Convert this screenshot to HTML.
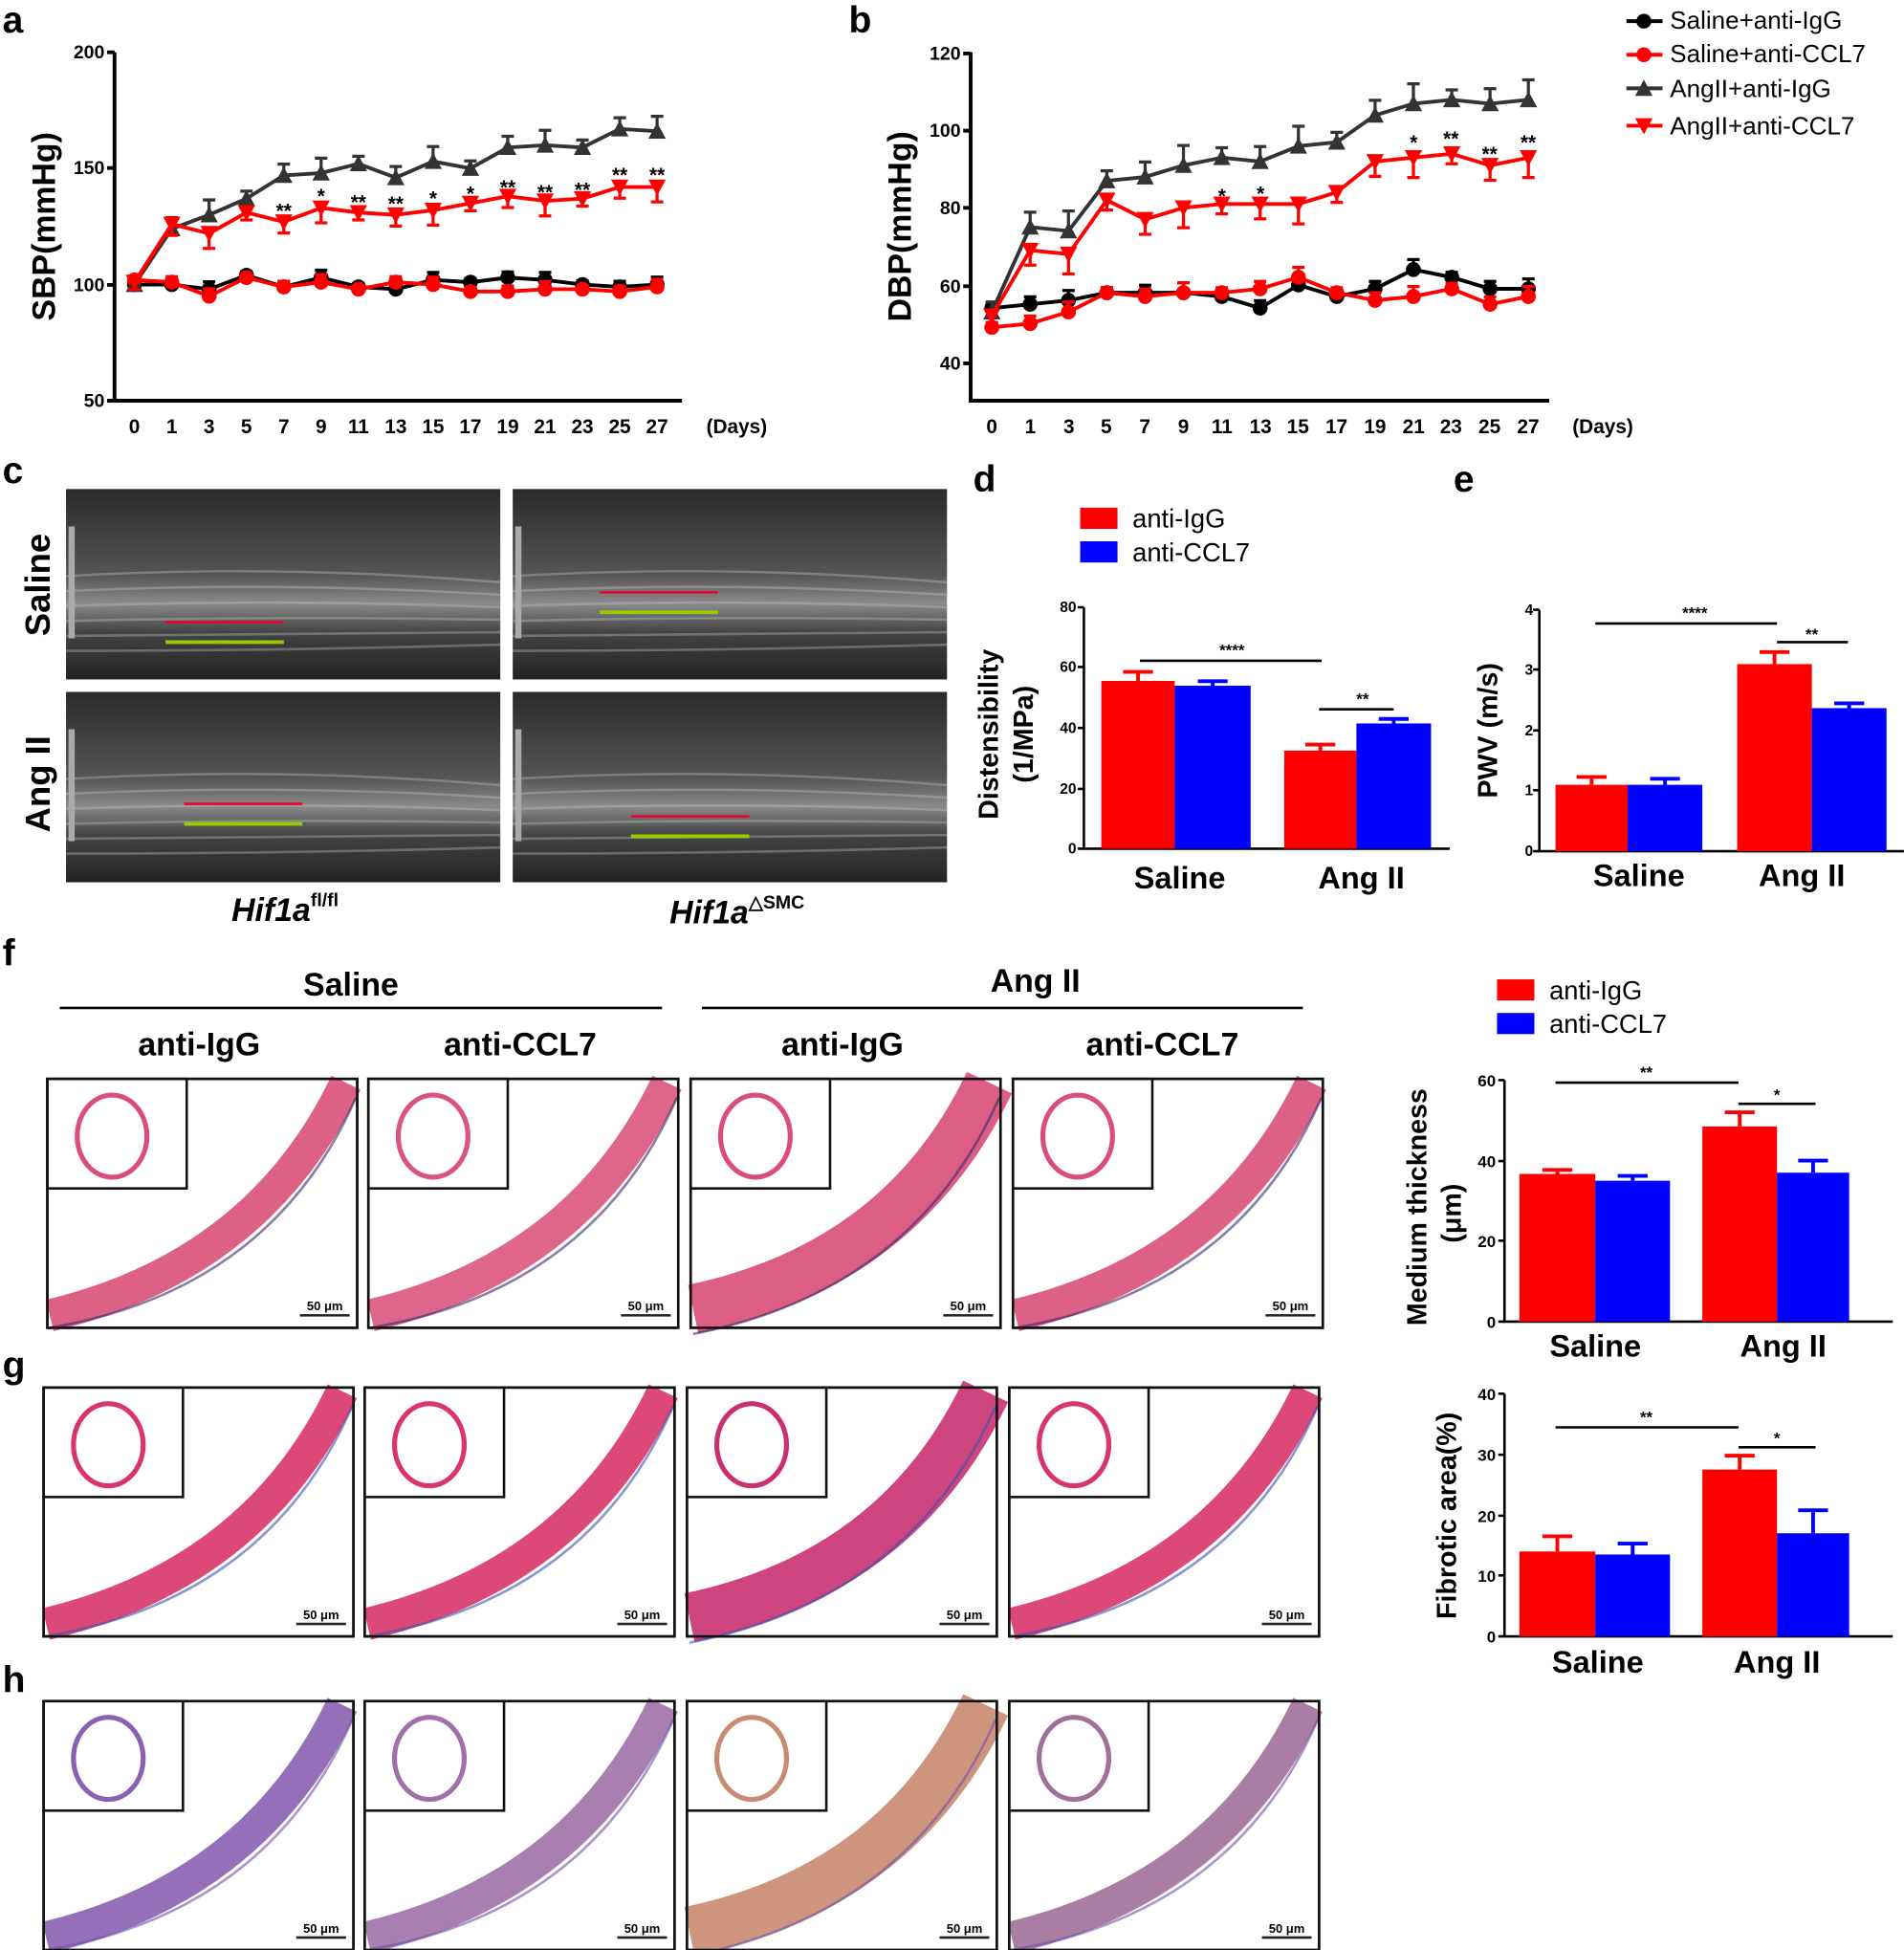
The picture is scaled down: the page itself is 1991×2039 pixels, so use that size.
<!DOCTYPE html>
<html><head><meta charset="utf-8"><style>
html,body{margin:0;padding:0;background:#fff;}
svg{display:block;}
text{font-family:"Liberation Sans",Arial,sans-serif;}
</style></head><body>
<svg id="s" width="1991" height="2039" viewBox="0 0 1530 1567" xmlns="http://www.w3.org/2000/svg">
<defs>
<linearGradient id="usg" x1="0" y1="0" x2="0" y2="1">
<stop offset="0" stop-color="#2a2a2a"/><stop offset="0.45" stop-color="#555"/><stop offset="0.6" stop-color="#8a8a8a"/><stop offset="0.75" stop-color="#444"/><stop offset="1" stop-color="#222"/></linearGradient>
</defs>
<g font-weight="bold">
<text x="2" y="26" font-size="30">a</text>
<text x="682" y="26" font-size="30">b</text>
<text x="2" y="388" font-size="30">c</text>
<text x="782" y="395" font-size="30">d</text>
<text x="1168" y="395" font-size="30">e</text>
<text x="2" y="776" font-size="30">f</text>
<text x="2" y="1107" font-size="30">g</text>
<text x="2" y="1360" font-size="30">h</text>
</g>
<g stroke="#000" stroke-width="3" fill="none">
<path d="M92,42 V322 H548"/><path d="M86,42H92M86,135H92M86,229H92M86,322H92"/>
<path d="M780,42 V322 H1245"/><path d="M774,43H780M774,105H780M774,167H780M774,230H780M774,292H780"/>
</g>
<g font-size="15" font-weight="bold" text-anchor="end">
<text x="84" y="47">200</text><text x="84" y="140">150</text><text x="84" y="234">100</text><text x="84" y="327">50</text>
<text x="772" y="48">120</text><text x="772" y="110">100</text><text x="772" y="172">80</text><text x="772" y="235">60</text><text x="772" y="297">40</text>
</g>
<text transform="translate(44,182) rotate(-90)" font-size="26" font-weight="bold" text-anchor="middle">SBP(mmHg)</text>
<text transform="translate(732,182) rotate(-90)" font-size="26" font-weight="bold" text-anchor="middle">DBP(mmHg)</text>
<g font-size="16" font-weight="bold" text-anchor="middle">
<text x="108" y="348">0</text><text x="138" y="348">1</text><text x="168" y="348">3</text><text x="198" y="348">5</text><text x="228" y="348">7</text><text x="258" y="348">9</text><text x="288" y="348">11</text><text x="318" y="348">13</text><text x="348" y="348">15</text><text x="378" y="348">17</text><text x="408" y="348">19</text><text x="438" y="348">21</text><text x="468" y="348">23</text><text x="498" y="348">25</text><text x="528" y="348">27</text>
<text x="592" y="348">(Days)</text>
<text x="797" y="348">0</text><text x="828" y="348">1</text><text x="859" y="348">3</text><text x="889" y="348">5</text><text x="920" y="348">7</text><text x="951" y="348">9</text><text x="982" y="348">11</text><text x="1013" y="348">13</text><text x="1043" y="348">15</text><text x="1074" y="348">17</text><text x="1105" y="348">19</text><text x="1136" y="348">21</text><text x="1166" y="348">23</text><text x="1197" y="348">25</text><text x="1228" y="348">27</text>
<text x="1288" y="348">(Days)</text>
</g>
<g font-size="16" font-weight="bold" text-anchor="middle">
<text x="228" y="175">**</text><text x="258" y="163">*</text><text x="288" y="168">**</text><text x="318" y="169">**</text><text x="348" y="165">*</text><text x="378" y="161">*</text><text x="408" y="156">**</text><text x="438" y="160">**</text><text x="468" y="158">**</text><text x="498" y="146">**</text><text x="528" y="146">**</text>
<text x="982" y="163">*</text><text x="1013" y="161">*</text><text x="1136" y="120">*</text><text x="1166" y="117">**</text><text x="1197" y="129">**</text><text x="1228" y="120">**</text>
</g>
<g font-size="20">
<text x="1342" y="23">Saline+anti-IgG</text><text x="1342" y="50">Saline+anti-CCL7</text><text x="1342" y="78">AngII+anti-IgG</text><text x="1342" y="108">AngII+anti-CCL7</text>
</g>
<g id="series"></g>
<g id="usgrp"></g>
<text transform="translate(40,470) rotate(-90)" font-size="28" font-weight="bold" text-anchor="middle">Saline</text>
<text transform="translate(40,630) rotate(-90)" font-size="28" font-weight="bold" text-anchor="middle">Ang II</text>
<text x="186" y="740" font-size="26" font-weight="bold" font-style="italic">Hif1a<tspan font-size="15" dy="-12" font-style="normal">fl/fl</tspan></text>
<text x="538" y="742" font-size="26" font-weight="bold" font-style="italic">Hif1a<tspan font-size="15" dy="-12" font-style="normal">△SMC</tspan></text>
<rect x="868" y="408" width="30" height="17" fill="#f00"/><text x="910" y="424" font-size="21">anti-IgG</text>
<rect x="868" y="435" width="30" height="17" fill="#00f"/><text x="910" y="451" font-size="21">anti-CCL7</text>
<g stroke="#000" stroke-width="2" fill="none"><path d="M871,488V682H1165"/><path d="M866,488H871M866,536H871M866,585H871M866,634H871M866,682H871"/>
<path d="M1237,490V684H1530"/><path d="M1232,490H1237M1232,538H1237M1232,587H1237M1232,635H1237M1232,684H1237"/>
<path d="M1209,868V1062H1521"/><path d="M1204,868H1209M1204,933H1209M1204,997H1209M1204,1062H1209"/>
<path d="M1209,1120V1315H1521"/><path d="M1204,1120H1209M1204,1169H1209M1204,1218H1209M1204,1266H1209M1204,1315H1209"/>
</g>
<g font-size="12" font-weight="bold" text-anchor="end">
<text x="865" y="492">80</text><text x="865" y="540">60</text><text x="865" y="589">40</text><text x="865" y="638">20</text><text x="865" y="686">0</text>
<text x="1232" y="494">4</text><text x="1232" y="542">3</text><text x="1232" y="591">2</text><text x="1232" y="639">1</text><text x="1232" y="688">0</text>
</g>
<g font-size="13" font-weight="bold" text-anchor="end">
<text x="1202" y="873">60</text><text x="1202" y="938">40</text><text x="1202" y="1002">20</text><text x="1202" y="1067">0</text>
<text x="1202" y="1125">40</text><text x="1202" y="1174">30</text><text x="1202" y="1223">20</text><text x="1202" y="1271">10</text><text x="1202" y="1320">0</text>
</g>
<g id="bars"></g>
<text transform="translate(802,590) rotate(-90)" font-size="22" font-weight="bold" text-anchor="middle">Distensibility</text>
<text transform="translate(830,590) rotate(-90)" font-size="22" font-weight="bold" text-anchor="middle">(1/MPa)</text>
<text transform="translate(1203,587) rotate(-90)" font-size="22" font-weight="bold" text-anchor="middle">PWV (m/s)</text>
<text transform="translate(1146,970) rotate(-90)" font-size="22" font-weight="bold" text-anchor="middle">Medium thickness</text>
<text transform="translate(1174,975) rotate(-90)" font-size="22" font-weight="bold" text-anchor="middle">(μm)</text>
<text transform="translate(1170,1218) rotate(-90)" font-size="22" font-weight="bold" text-anchor="middle">Fibrotic area(%)</text>
<g font-size="25" font-weight="bold" text-anchor="middle">
<text x="948" y="714">Saline</text><text x="1094" y="714">Ang II</text>
<text x="1317" y="712">Saline</text><text x="1448" y="712">Ang II</text>
<text x="1282" y="1090">Saline</text><text x="1433" y="1090">Ang II</text>
<text x="1284" y="1344">Saline</text><text x="1428" y="1344">Ang II</text>
</g>
<g font-size="13" font-weight="bold" text-anchor="middle">
<text x="990" y="527">****</text><text x="1095" y="566">**</text>
<text x="1362" y="497">****</text><text x="1456" y="514">**</text>
<text x="1323" y="866">**</text><text x="1428" y="884">*</text>
<text x="1323" y="1143">**</text><text x="1428" y="1160">*</text>
</g>
<g stroke="#000" stroke-width="2">
<path d="M916,531H1062M1060,570H1120M1282,501H1428M1428,516H1485M1250,870H1397M1397,887H1459M1250,1147H1397M1397,1163H1459"/>
</g>
<rect x="1203" y="787" width="30" height="17" fill="#f00"/><text x="1245" y="803" font-size="21">anti-IgG</text>
<rect x="1203" y="814" width="30" height="17" fill="#00f"/><text x="1245" y="830" font-size="21">anti-CCL7</text>
<g font-size="26" font-weight="bold" text-anchor="middle">
<text x="282" y="800">Saline</text><text x="832" y="797">Ang II</text>
<text x="160" y="848">anti-IgG</text><text x="418" y="848">anti-CCL7</text><text x="677" y="848">anti-IgG</text><text x="934" y="848">anti-CCL7</text>
</g>
<path d="M48,810H532M564,810H1047" stroke="#000" stroke-width="2"/>
<g id="hist"></g>
<script>
var NS='http://www.w3.org/2000/svg';
function el(p,t,a,txt){var e=document.createElementNS(NS,t);for(var k in a)e.setAttribute(k,a[k]);if(txt)e.textContent=txt;p.appendChild(e);return e;}
var G=document.getElementById('series');
function series(xs,yf,d,col,mk,err){var pts=d.map(function(v,i){return [xs[i],yf(v)]});
 el(G,'polyline',{points:pts.join(' '),fill:'none',stroke:col,'stroke-width':3});
 pts.forEach(function(p,i){ if(err){var e=err*(1+ (i%3)*0.5);var dir=(mk=='dn')?1:-1; el(G,'path',{d:'M'+p[0]+','+p[1]+'V'+(p[1]+dir*e)+'M'+(p[0]-5)+','+(p[1]+dir*e)+'H'+(p[0]+5),stroke:col,'stroke-width':2.5});}
  if(mk=='c')el(G,'circle',{cx:p[0],cy:p[1],r:6,fill:col});
  else if(mk=='up')el(G,'path',{d:'M'+p[0]+','+(p[1]-7)+'L'+(p[0]+7)+','+(p[1]+6)+'L'+(p[0]-7)+','+(p[1]+6)+'Z',fill:col});
  else el(G,'path',{d:'M'+p[0]+','+(p[1]+7)+'L'+(p[0]+7)+','+(p[1]-6)+'L'+(p[0]-7)+','+(p[1]-6)+'Z',fill:col});});}
var xa=[],xb=[];for(var i=0;i<15;i++){xa.push(108+30*i);xb.push(797+30.8*i);}
var ya=function(v){return 322-(v-50)*280/150},yb=function(v){return 43+(120-v)*3.1};
series(xa,ya,[100,100,98,104,99,103,99,98,102,101,103,102,100,99,100],'#000','c',3);
series(xa,ya,[102,101,95,103,99,101,98,101,100,97,97,98,98,97,99],'#f00','c',3);
series(xa,ya,[100,124,130,137,147,148,152,146,153,150,159,160,159,167,166],'#333','up',6);
series(xa,ya,[101,126,122,131,127,133,131,130,132,135,138,136,137,142,142],'#f00','dn',6);
series(xb,yb,[54,55,56,58,58,58,57,54,60,57,59,64,62,59,59],'#000','c',4);
series(xb,yb,[49,50,53,58,57,58,58,59,62,58,56,57,59,55,57],'#f00','c',4);
series(xb,yb,[53,75,74,87,88,91,93,92,96,97,104,107,108,107,108],'#333','up',8);
series(xb,yb,[52,69,68,82,77,80,81,81,81,84,92,93,94,91,93],'#f00','dn',8);
[[17,'#000','c'],[44,'#f00','c'],[71,'#333','up'],[101,'#f00','dn']].forEach(function(l){el(G,'path',{d:'M1307,'+l[0]+'H1336',stroke:l[1],'stroke-width':3});
 var x=1321,y=l[0];if(l[2]=='c')el(G,'circle',{cx:x,cy:y,r:6,fill:l[1]});else if(l[2]=='up')el(G,'path',{d:'M'+x+','+(y-7)+'L'+(x+7)+','+(y+6)+'L'+(x-7)+','+(y+6)+'Z',fill:l[1]});else el(G,'path',{d:'M'+x+','+(y+7)+'L'+(x+7)+','+(y-6)+'L'+(x-7)+','+(y-6)+'Z',fill:l[1]});});
var U=document.getElementById('usgrp');
[[53,393],[412,393],[53,556],[412,556]].forEach(function(p,k){el(U,'rect',{x:p[0],y:p[1],width:349,height:153,fill:'url(#usg)'});
 for(var j=0;j<6;j++)el(U,'path',{d:'M'+p[0]+','+(p[1]+70+j*12)+'Q'+(p[0]+170)+','+(p[1]+60+j*14)+' '+(p[0]+349)+','+(p[1]+75+j*10),stroke:'#bbb','stroke-width':2,'stroke-opacity':0.4,fill:'none'});
 el(U,'rect',{x:p[0]+2,y:p[1]+30,width:5,height:90,fill:'#aaa'});
 var ly=p[1]+(k<2?(k==0?107:83):(k==2?90:100)),lx=p[0]+(k==0?80:(k==1?70:95));
 el(U,'path',{d:'M'+lx+','+ly+'H'+(lx+95),stroke:'#e03','stroke-width':2});el(U,'path',{d:'M'+lx+','+(ly+16)+'H'+(lx+95),stroke:'#9c0','stroke-width':3});});
var B=document.getElementById('bars');
function bars(list,y0,sc){list.forEach(function(b){var h=b[2]*sc;el(B,'rect',{x:b[0],y:y0-h,width:b[1],height:h,fill:b[3]});var eh=b[4]*sc;el(B,'path',{d:'M'+(b[0]+b[1]/2)+','+(y0-h)+'V'+(y0-h-eh)+'M'+(b[0]+b[1]/2-12)+','+(y0-h-eh)+'H'+(b[0]+b[1]/2+12),stroke:b[3],'stroke-width':3});});}
bars([[885,59,55.6,'#f00',3],[944,61,54,'#00f',1.5],[1032,58,32.5,'#f00',2],[1090,60,41.5,'#00f',1.5]],682,194/80);
bars([[1250,58,1.1,'#f00',0.13],[1308,60,1.1,'#00f',0.1],[1396,60,3.1,'#f00',0.2],[1456,60,2.37,'#00f',0.08]],684,194/4);
bars([[1221,61,36.7,'#f00',1],[1282,60,35,'#00f',1.2],[1368,60,48.5,'#f00',3.5],[1428,58,37,'#00f',3]],1062,194/60);
bars([[1221,61,14,'#f00',2.5],[1282,60,13.5,'#00f',1.8],[1368,60,27.5,'#f00',2.3],[1428,58,17,'#00f',3.8]],1315,195/40);
var H=document.getElementById('hist');
var rows=[[867,['#d94f78','#d9557d','#d94d78','#d94f7a'],'#3a2a6a'],[1115,['#d8356a','#d8356a','#c83070','#d8356a'],'#3a50b0'],[1367,['#8a60b0','#a070a8','#c88a70','#a07098'],'#7050a8']];
var cols=[38,296,555,814];
rows.forEach(function(r,ri){cols.forEach(function(cx,ci){var y=r[0],x=cx-(ri>0?3:0);
 el(H,'rect',{x:x,y:y,width:249,height:200,fill:'#fff',stroke:'#111','stroke-width':2});
 var w=ci==2?40:26;
 el(H,'path',{d:'M'+(x+2)+','+(y+(ci==2?185:190))+'Q'+(x+170)+','+(y+150)+' '+(x+240)+','+(y+3),stroke:r[1][ci],'stroke-width':w,fill:'none','stroke-opacity':0.9});
 el(H,'path',{d:'M'+(x+2)+','+(y+(ci==2?205:200))+'Q'+(x+180)+','+(y+170)+' '+(x+248)+','+(y+15),stroke:r[2],'stroke-width':2,fill:'none','stroke-opacity':0.6});
 el(H,'rect',{x:x,y:y,width:112,height:88,fill:'#fff',stroke:'#111','stroke-width':2});
 el(H,'ellipse',{cx:x+52,cy:y+46,rx:28,ry:33,fill:'none',stroke:r[1][ci],'stroke-width':4});
 el(H,'text',{x:x+223,y:y+186,'font-size':10,'font-weight':'bold','text-anchor':'middle'},'50 μm');
 el(H,'path',{d:'M'+(x+203)+','+(y+190)+'H'+(x+243),stroke:'#222','stroke-width':2});
 el(H,'rect',{x:x,y:y,width:249,height:200,fill:'none',stroke:'#111','stroke-width':2});});});
</script>
</svg>
</body></html>
